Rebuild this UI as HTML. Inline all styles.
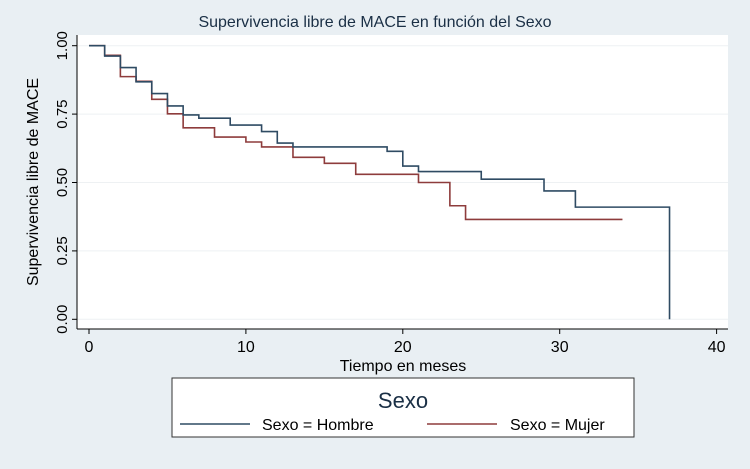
<!DOCTYPE html>
<html><head><meta charset="utf-8"><style>
body{margin:0;background:#e9eff3;}
svg{display:block;font-family:"Liberation Sans",sans-serif;}
</style></head><body>
<svg width="750" height="469" viewBox="0 0 750 469">
<rect x="0" y="0" width="750" height="469" fill="#e9eff3"/>
<text x="375" y="27" font-size="16" text-anchor="middle" fill="#1a2f45">Supervivencia libre de MACE en función del Sexo</text>
<rect x="77" y="35" width="651" height="294" fill="#fff"/>
<g id="grid"></g><g id="axes"></g><g id="series"></g>
<text x="0" y="0" transform="translate(38,182) rotate(-90)" font-size="16" text-anchor="middle" fill="#000">Supervivencia libre de MACE</text>
<text x="403" y="371" font-size="16" text-anchor="middle" fill="#000">Tiempo en meses</text>
<g>
<rect x="172" y="378" width="462" height="59" fill="#fff" stroke="#333" stroke-width="1"/>
<text x="403" y="408" font-size="22" text-anchor="middle" fill="#1a2f45">Sexo</text>
<line x1="180" y1="424" x2="250" y2="424" stroke="#2f4b63" stroke-width="1.5"/>
<text x="262" y="430" font-size="16">Sexo = Hombre</text>
<line x1="427" y1="424" x2="497" y2="424" stroke="#8e3c3c" stroke-width="1.5"/>
<text x="510" y="430" font-size="16">Sexo = Mujer</text>
</g>
</svg>
<script>
const xTicks=[0,10,20,30,40];
const yTicks=[0,0.25,0.5,0.75,1];
const yTickLabels=["0.00","0.25","0.50","0.75","1.00"];
const hombreTimes=[0,1,2,3,4,5,6,7,9,11,12,13,19,20,21,25,29,31,37];
const hombreSurv=[1,0.962,0.92,0.868,0.825,0.78,0.747,0.735,0.71,0.686,0.644,0.63,0.614,0.56,0.54,0.512,0.469,0.41,0];
const hombreEnd=37;
const mujerTimes=[0,1,2,3,4,5,6,8,10,11,13,15,17,21,23,24];
const mujerSurv=[1,0.965,0.887,0.87,0.804,0.751,0.70,0.666,0.648,0.63,0.592,0.57,0.53,0.5,0.415,0.365];
const mujerEnd=34;
const NS="http://www.w3.org/2000/svg";
const X=t=>89+t*15.69, Y=v=>319.3-v*273.6;
function mk(tag,attrs,parent){const e=document.createElementNS(NS,tag);for(const k in attrs)e.setAttribute(k,attrs[k]);parent.appendChild(e);return e;}
const grid=document.getElementById('grid'),axes=document.getElementById('axes'),series=document.getElementById('series');
yTicks.forEach((v,i)=>{
 const g=mk('line',{x1:77,x2:728,y1:Y(v),y2:Y(v),stroke:'#eef1f3','stroke-width':1},grid);
 
 
 const tk=mk('line',{x1:72,x2:77,y1:Y(v),y2:Y(v),stroke:'#000'},axes);
 
 
 const t=mk('text',{x:0,y:0,transform:`translate(${67},${Y(v)}) rotate(-90)`,'font-size':15,'text-anchor':'middle'},axes);
 t.textContent=yTickLabels[i];
 
 
});
xTicks.forEach(v=>{
 const tk=mk('line',{x1:X(v),x2:X(v),y1:329,y2:334,stroke:'#000'},axes);
 
 
 const t=mk('text',{x:X(v),y:352,'font-size':16,'text-anchor':'middle'},axes);
 t.textContent=v;
 
 
});
const ya=mk('line',{x1:77,x2:77,y1:35,y2:329,stroke:'#000'},axes);


const xa=mk('line',{x1:77,x2:728,y1:329,y2:329,stroke:'#000'},axes);


function step(times,surv,end,color,name){
 let d=`M${X(times[0])},${Y(surv[0])}`;
 for(let i=1;i<times.length;i++){d+=` H${X(times[i])} V${Y(surv[i])}`;}
 if(end>times[times.length-1]) d+=` H${X(end)}`;
 const p=mk('path',{d:d,fill:'none',stroke:color,'stroke-width':1.6},series);
 
 
}
step(mujerTimes,mujerSurv,mujerEnd,'#8e3c3c','series-mujer');
step(hombreTimes,hombreSurv,hombreEnd,'#2f4b63','series-hombre');
</script>
</body></html>
